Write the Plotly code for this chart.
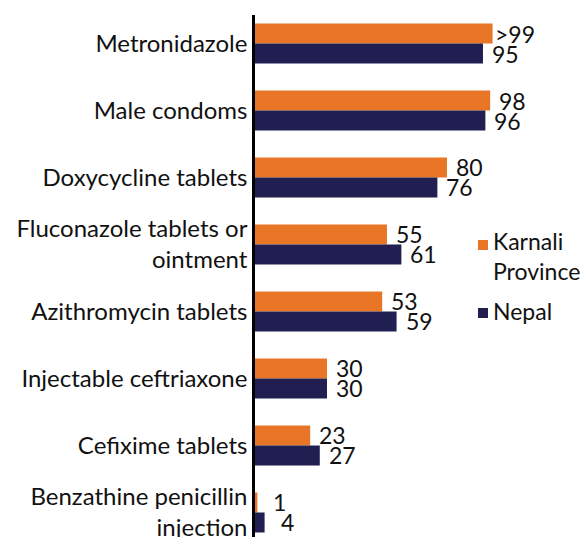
import plotly.graph_objects as go

# Share of facilities with each STI medicine/commodity available (%)
categories = [
    "Metronidazole",
    "Male condoms",
    "Doxycycline tablets",
    "Fluconazole tablets or<br>ointment",
    "Azithromycin tablets",
    "Injectable ceftriaxone",
    "Cefixime tablets",
    "Benzathine penicillin<br>injection",
]
karnali = [99, 98, 80, 55, 53, 30, 23, 1]
nepal = [95, 96, 76, 61, 59, 30, 27, 4]
karnali_labels = [">99", "98", "80", "55", "53", "30", "23", "1"]
nepal_labels = ["95", "96", "76", "61", "59", "30", "27", "4"]
series_names = ["Karnali<br>Province", "Nepal"]

ORANGE = "#E97627"
NAVY = "#211F51"
INK = "#111111"
FONT = "Lato"

# plot-area geometry in pixels, used to place the hand-drawn legend
L, T, W, H = 255, 15, 329, 522


def px_x(x):
    return (x - L) / W


def px_y(y):
    return 1 - (y - T) / H


fig = go.Figure()
fig.add_trace(go.Bar(y=categories, x=karnali, orientation="h", name=series_names[0],
                     marker=dict(color=ORANGE, line=dict(width=0)), showlegend=False))
fig.add_trace(go.Bar(y=categories, x=nepal, orientation="h", name=series_names[1],
                     marker=dict(color=NAVY, line=dict(width=0)), showlegend=False))


def label_shift(text):
    if text.startswith(">"):
        return 0
    if len(text) == 1:
        return 14
    return 7


# value labels just past the end of each bar
annotations = []
for series, labels, shift in ((karnali, karnali_labels, 10), (nepal, nepal_labels, -10)):
    for cat, val, lab in zip(categories, series, labels):
        annotations.append(dict(
            x=val, y=cat, xref="x", yref="y", text=lab, showarrow=False,
            xanchor="left", yanchor="middle", xshift=label_shift(lab), yshift=shift,
            font=dict(family=FONT, size=23, color=INK),
        ))

# legend: colour swatch followed by the series name
shapes = []
for name, color, y_mid in ((series_names[0], ORANGE, 245), (series_names[1], NAVY, 313)):
    shapes.append(dict(type="rect", xref="paper", yref="paper",
                       x0=px_x(478), x1=px_x(488), y0=px_y(y_mid + 5), y1=px_y(y_mid - 5),
                       fillcolor=color, line=dict(width=0)))
annotations.append(dict(x=px_x(491), y=px_y(256), xref="paper", yref="paper",
                        text=series_names[0], showarrow=False, xanchor="left",
                        yanchor="middle", align="left",
                        font=dict(family=FONT, size=23, color=INK)))
annotations.append(dict(x=px_x(491), y=px_y(311), xref="paper", yref="paper",
                        text=series_names[1], showarrow=False, xanchor="left",
                        yanchor="middle", align="left",
                        font=dict(family=FONT, size=23, color=INK)))

fig.update_layout(
    width=584, height=537,
    margin=dict(l=L, r=584 - L - W, t=T, b=0, autoexpand=False),
    paper_bgcolor="white", plot_bgcolor="white",
    barmode="group", bargap=0.403, bargroupgap=0,
    font=dict(family=FONT, size=24, color=INK),
    showlegend=False,
    annotations=annotations,
    shapes=shapes,
)
fig.update_xaxes(range=[0, 137.1], visible=False, showgrid=False, zeroline=False)
fig.update_yaxes(
    type="category", categoryarray=categories, range=[7.366, -0.4254],
    showline=True, linecolor="black", linewidth=2.5, ticks="", showgrid=False,
    zeroline=False, automargin=False, tickfont=dict(family=FONT, size=24, color=INK),
)

fig.write_html("out.html")
